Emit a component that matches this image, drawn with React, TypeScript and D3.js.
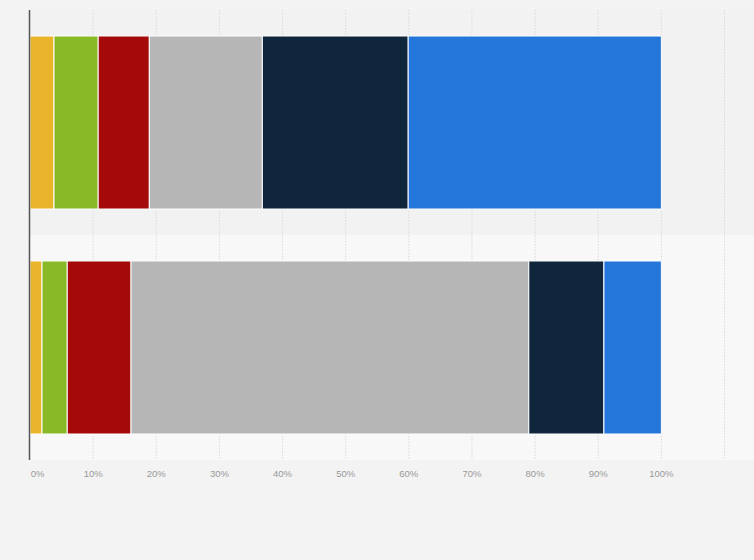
import * as d3 from "d3";
import { useEffect, useRef } from "react";

const categories = ["A", "B"];
const seriesNames = ["S1", "S2", "S3", "S4", "S5", "S6"];
const seriesColors = ["#eab42a", "#88ba27", "#a40a0a", "#b6b6b6", "#0f263d", "#2576db"];
// share per category, in percent (one array per series)
const s1 = [3.8, 1.9];
const s2 = [7.0, 4.0];
const s3 = [8.1, 10.1];
const s4 = [17.9, 63.0];
const s5 = [23.1, 11.9];
const s6 = [40.1, 9.1];
const tickValues = [0, 10, 20, 30, 40, 50, 60, 70, 80, 90, 100];

export default function App() {
  const svgRef = useRef<SVGSVGElement | null>(null);

  useEffect(() => {
    const width = 754;
    const height = 560;
    const top = 10;
    const bottom = 460;

    const svg = d3.select(svgRef.current);
    svg.selectAll("*").remove();

    svg.append("rect").attr("width", width).attr("height", height).attr("fill", "#f3f3f3");

    const x = d3.scaleLinear().domain([0, 110]).range([30, 724.5]);
    const y = d3
      .scaleBand<string>()
      .domain(categories)
      .range([top, bottom])
      .paddingInner(0.231)
      .paddingOuter(0.1156);

    const step = y.step();
    // alternating band backgrounds
    svg
      .selectAll("rect.band")
      .data(categories)
      .join("rect")
      .attr("class", "band")
      .attr("x", x(0))
      .attr("width", width - x(0))
      .attr("y", (_, i) => top + i * step)
      .attr("height", step)
      .attr("fill", (_, i) => (i % 2 === 0 ? "#f2f2f2" : "#f8f8f8"));

    // grid
    svg
      .selectAll("line.grid")
      .data([...tickValues.slice(1), 110])
      .join("line")
      .attr("class", "grid")
      .attr("x1", (d) => x(d))
      .attr("x2", (d) => x(d))
      .attr("y1", top)
      .attr("y2", bottom)
      .attr("stroke", "#dadada")
      .attr("stroke-width", 1)
      .attr("stroke-dasharray", "1.5,1.5");

    const series = [s1, s2, s3, s4, s5, s6];
    const rows = categories.map((c, i) => {
      const row: Record<string, any> = { cat: c };
      seriesNames.forEach((n, j) => (row[n] = series[j][i]));
      return row;
    });
    const stacked = d3.stack<Record<string, any>>().keys(seriesNames)(rows);

    stacked.forEach((layer, j) => {
      svg
        .append("g")
        .selectAll("rect")
        .data(layer)
        .join("rect")
        .attr("x", (d) => x(d[0]))
        .attr("width", (d) => x(d[1]) - x(d[0]))
        .attr("y", (d) => y(d.data.cat)!)
        .attr("height", y.bandwidth())
        .attr("fill", seriesColors[j])
        .attr("stroke", "#ffffff")
        .attr("stroke-width", 1);
    });

    // axis line
    svg
      .append("line")
      .attr("x1", 29.5)
      .attr("x2", 29.5)
      .attr("y1", top)
      .attr("y2", bottom)
      .attr("stroke", "#555")
      .attr("stroke-width", 1.5);

    svg
      .selectAll("text.tick")
      .data(tickValues)
      .join("text")
      .attr("class", "tick")
      .attr("x", (d) => (d === 0 ? x(0) + 7.5 : x(d)))
      .attr("y", 477)
      .attr("text-anchor", "middle")
      .attr("fill", "#999")
      .style("font", "9.5px 'Liberation Sans', Arial, sans-serif")
      .text((d) => `${d}%`);
  }, []);

  return (
    <svg
      ref={svgRef}
      width={754}
      height={560}
      style={{ position: "absolute", left: 0, top: 0, display: "block" }}
    />
  );
}
